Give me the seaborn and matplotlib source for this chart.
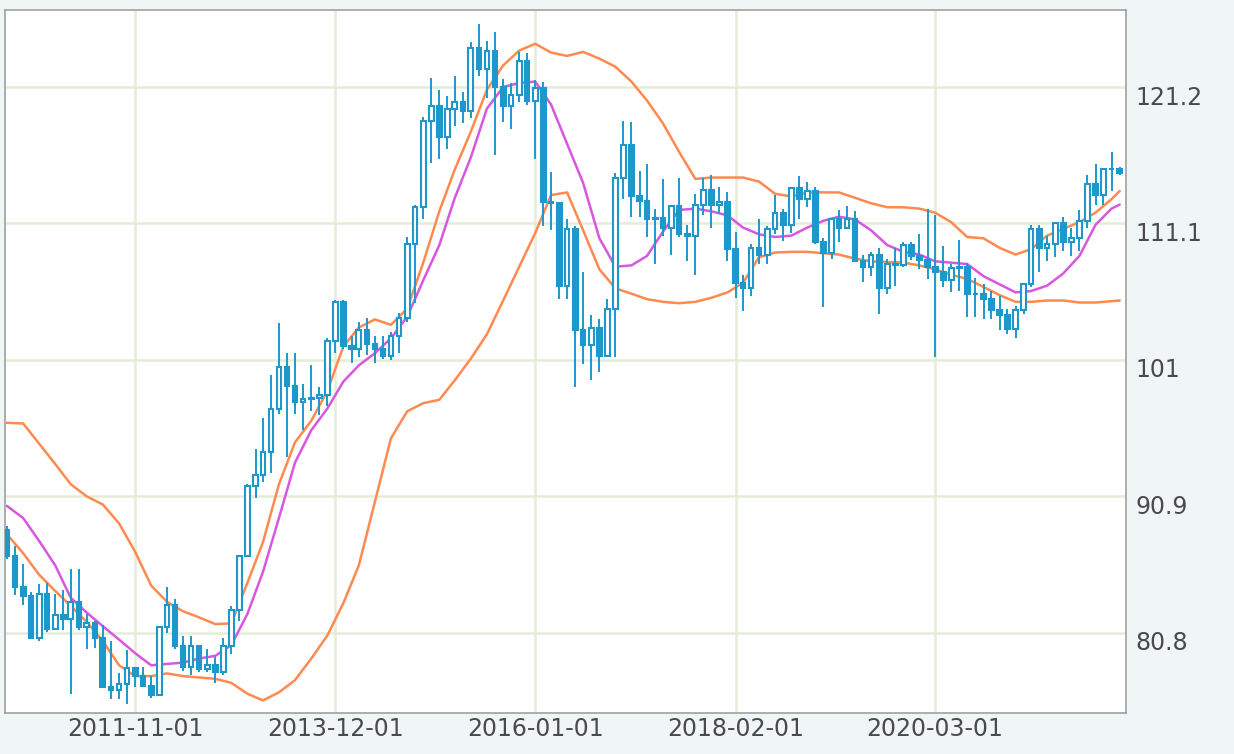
import matplotlib
matplotlib.use("Agg")
import matplotlib.pyplot as plt
import matplotlib.transforms as mtransforms
import numpy as np
import pandas as pd
import seaborn as sns

# monthly candles, 2010-07 .. 2022-02
months = pd.date_range("2010-07-01", periods=140, freq="MS")

open_ = [88.4, 86.5, 84.2, 83.5, 80.4, 83.7,  # 2010
         81.1, 82.1, 81.8, 83.1, 81.2, 81.5, 80.4, 76.8, 76.6, 77.0, 78.2, 77.6,
         76.9, 76.2, 81.2, 82.9, 79.8, 78.3, 79.8, 78.1, 78.4, 77.9, 79.8, 82.5,
         86.5, 91.7, 92.5, 94.2, 97.4, 100.5, 99.1, 97.9, 98.1, 98.2, 98.4, 102.4,
         105.3, 102.0, 101.8, 103.2, 102.2, 101.8, 101.3, 102.8, 104.1, 109.6, 112.3, 118.7,
         119.8, 117.5, 119.6, 120.1, 119.4, 124.1, 122.5, 123.9, 121.2, 119.8, 120.6, 123.1,
         120.2, 121.1, 112.7, 112.6, 106.5, 110.7, 103.2, 102.1, 103.4, 101.3, 104.8, 114.5,
         116.9, 113.1, 112.8, 111.4, 111.5, 110.8, 112.4, 110.3, 110.2, 112.5, 113.6, 112.5,
         112.7, 109.2, 106.7, 106.3, 109.3, 108.8, 110.7, 111.9, 111.0, 113.7, 112.9, 113.5,
         109.7, 108.9, 111.4, 110.8, 111.4, 108.3, 107.9, 108.8, 106.3, 108.1, 108.0, 109.5,
         108.7, 108.4, 107.9, 107.5, 106.9, 107.8, 107.9, 105.9, 105.9, 105.5, 104.7, 104.3,
         103.3, 104.7, 106.6, 110.7, 109.3, 109.6, 111.1, 109.7, 110.0, 111.3, 114.0, 113.2,
         115.1, 115.1]
high = [88.7, 87.2, 85.9, 83.8, 84.4, 84.5,
        83.7, 84.0, 85.5, 85.5, 82.2, 81.7, 81.4, 80.2, 77.8, 79.5, 78.3, 78.3,
        77.6, 81.2, 84.2, 83.3, 80.6, 80.6, 79.9, 79.6, 79.0, 80.4, 82.8, 86.6,
        91.8, 94.4, 96.7, 99.9, 103.7, 101.5, 101.5, 99.2, 100.6, 99.0, 102.6, 105.4,
        105.4, 102.8, 103.8, 104.1, 102.8, 102.8, 103.1, 104.5, 110.1, 112.5, 119.0, 121.9,
        121.0, 120.5, 122.0, 120.8, 124.5, 125.9, 124.6, 125.3, 121.8, 121.5, 123.8, 123.7,
        121.7, 121.6, 114.9, 112.7, 111.4, 110.9, 107.5, 104.3, 104.0, 105.5, 114.8, 118.7,
        118.6, 115.0, 115.5, 112.2, 114.4, 112.4, 114.5, 111.0, 113.3, 114.5, 114.7, 113.8,
        113.4, 110.5, 107.3, 109.6, 111.4, 110.9, 113.2, 112.2, 113.7, 114.6, 114.2, 113.8,
        110.0, 111.5, 112.1, 112.4, 112.0, 108.8, 109.0, 109.3, 108.5, 109.3, 109.7, 109.7,
        110.3, 112.2, 111.7, 109.4, 108.1, 109.9, 108.2, 107.1, 106.6, 106.1, 105.7, 104.8,
        105.0, 106.7, 111.0, 111.0, 110.2, 111.1, 111.6, 110.8, 112.1, 114.7, 115.5, 115.2,
        116.4, 115.3]
low = [86.3, 83.6, 82.9, 80.4, 80.2, 80.9,
       81.0, 81.0, 76.3, 81.0, 79.6, 79.7, 76.7, 75.9, 75.9, 75.5, 76.8, 76.9,
       76.0, 76.1, 80.8, 79.6, 78.0, 77.7, 77.9, 77.9, 77.1, 77.7, 79.2, 81.7,
       86.5, 90.8, 92.0, 92.6, 97.0, 93.8, 97.0, 95.8, 97.2, 96.9, 97.6, 101.5,
       101.8, 100.8, 101.2, 101.4, 100.8, 101.1, 101.0, 101.5, 103.8, 105.2, 111.4, 115.6,
       115.9, 116.6, 118.3, 118.5, 118.9, 122.0, 120.4, 116.2, 118.6, 118.1, 120.1, 119.9,
       115.9, 110.9, 110.6, 105.5, 105.5, 99.0, 100.7, 99.5, 100.1, 101.2, 101.2, 112.9,
       111.6, 111.6, 110.1, 108.1, 110.2, 108.8, 110.1, 108.3, 107.3, 111.7, 110.8, 111.9,
       108.3, 105.6, 104.6, 105.7, 108.1, 108.1, 110.3, 109.8, 110.4, 111.4, 112.3, 109.6,
       104.9, 108.5, 109.7, 110.8, 108.3, 106.8, 107.2, 104.4, 105.9, 106.5, 107.9, 108.4,
       107.7, 107.0, 101.2, 106.4, 106.0, 106.1, 104.2, 104.2, 104.0, 104.0, 103.2, 102.9,
       102.6, 104.4, 106.4, 107.5, 108.3, 108.6, 109.1, 108.7, 109.1, 110.8, 112.5, 112.5,
       113.5, 114.7]
close = [86.5, 84.2, 83.5, 80.4, 83.7, 81.1,
         82.1, 81.8, 83.1, 81.2, 81.5, 80.4, 76.8, 76.6, 77.0, 78.2, 77.6, 76.9,
         76.2, 81.2, 82.9, 79.8, 78.3, 79.8, 78.1, 78.4, 77.9, 79.8, 82.5, 86.5,
         91.7, 92.5, 94.2, 97.4, 100.5, 99.1, 97.9, 98.1, 98.2, 98.4, 102.4, 105.3,
         102.0, 101.8, 103.2, 102.2, 101.8, 101.3, 102.8, 104.1, 109.6, 112.3, 118.7, 119.8,
         117.5, 119.6, 120.1, 119.4, 124.1, 122.5, 123.9, 121.2, 119.8, 120.6, 123.1, 120.2,
         121.1, 112.7, 112.6, 106.5, 110.7, 103.2, 102.1, 103.4, 101.3, 104.8, 114.5, 116.9,
         113.1, 112.8, 111.4, 111.5, 110.8, 112.4, 110.3, 110.2, 112.5, 113.6, 112.5, 112.7,
         109.2, 106.7, 106.3, 109.3, 108.8, 110.7, 111.9, 111.0, 113.7, 112.9, 113.5, 109.7,
         108.9, 111.4, 110.8, 111.4, 108.3, 107.9, 108.8, 106.3, 108.1, 108.0, 109.5, 108.7,
         108.4, 107.9, 107.5, 106.9, 107.8, 107.9, 105.9, 105.9, 105.5, 104.7, 104.3, 103.3,
         104.7, 106.6, 110.7, 109.3, 109.6, 111.1, 109.7, 110.0, 111.3, 114.0, 113.2, 115.1,
         115.1, 114.8]

# band lines, read every second month (+ last month)
band_dates = list(months[::2]) + [months[-1]]
upper = [96.35, 96.3, 94.8, 93.3, 91.8, 90.9, 90.3, 88.9, 86.8, 84.3,
         83.1, 82.4, 81.95, 81.45, 81.5, 84.5, 87.5, 91.8, 94.9, 96.5,
         98.7, 102.0, 103.4, 104.0, 103.6, 104.8, 108.2, 112.0, 115.1, 117.9,
         121.0, 122.8, 123.9, 124.4, 123.75, 123.5, 123.8, 123.3, 122.7, 121.6,
         120.2, 118.5, 116.4, 114.4, 114.5, 114.5, 114.5, 114.2, 113.3, 113.1,
         113.4, 113.4, 113.4, 113.0, 112.6, 112.3, 112.3, 112.2, 111.9, 111.2,
         110.1, 110.0, 109.3, 108.8, 109.2, 110.2, 110.7, 111.2, 111.9, 112.9,
         113.5]
middle = [90.2, 89.3, 87.6, 85.8, 83.4, 82.3, 81.3, 80.3, 79.3, 78.4,
          78.5, 78.6, 78.9, 79.1, 79.9, 82.2, 85.3, 89.3, 93.4, 95.8,
          97.4, 99.4, 100.6, 101.5, 102.6, 104.2, 106.9, 109.5, 113.0, 116.0,
          119.6, 121.2, 121.5, 121.6, 119.9, 117.0, 114.1, 110.0, 107.9, 108.0,
          108.7, 110.5, 112.1, 112.2, 112.0, 111.7, 110.8, 110.3, 110.1, 110.2,
          110.8, 111.3, 111.6, 111.4, 110.6, 109.5, 109.0, 108.8, 108.3, 108.2,
          108.1, 107.2, 106.6, 106.0, 106.1, 106.5, 107.4, 108.7, 111.0, 112.2,
          112.5]
lower = [88.1, 86.7, 85.1, 83.9, 82.8, 81.6, 80.2, 78.4, 77.6, 77.6,
         77.8, 77.6, 77.5, 77.4, 77.1, 76.3, 75.8, 76.4, 77.3, 78.9,
         80.6, 83.0, 85.8, 90.5, 95.2, 97.2, 97.8, 98.05, 99.5, 101.1,
         102.9, 105.4, 107.9, 110.4, 113.2, 113.4, 110.6, 107.7, 106.3, 105.9,
         105.5, 105.3, 105.2, 105.3, 105.6, 106.0, 106.7, 108.6, 108.95, 109.0,
         109.0, 108.9, 108.8, 108.5, 108.3, 108.25, 108.2, 108.0, 107.7, 107.3,
         107.0, 106.4, 105.8, 105.3, 105.3, 105.4, 105.4, 105.25, 105.25, 105.35,
         105.4]

y_ticks = [80.8, 90.9, 101, 111.1, 121.2]
y_labels = ["80.8", "90.9", "101", "111.1", "121.2"]
x_ticks = ["2011-11-01", "2013-12-01", "2016-01-01", "2018-02-01", "2020-03-01"]

blue = "#1e98cb"
orange = "#ff8a4f"
magenta = "#d957e0"
grid_c = "#e5edd6"
text_c = "#4a4a4a"

sns.set_theme(style="white")
plt.rcParams["font.family"] = ["DejaVu Sans"]

fig = plt.figure(figsize=(12.34, 7.54), dpi=100, facecolor="#f0f5f5")
ax = fig.add_axes([5 / 1234, 1 - 713 / 754, 1121 / 1234, 703 / 754])
ax.set_facecolor("white")

bands = pd.DataFrame({"date": band_dates, "upper": upper,
                      "middle": middle, "lower": lower})
sns.lineplot(data=bands, x="date", y="upper", color=orange, lw=1.8, ax=ax, zorder=2)
sns.lineplot(data=bands, x="date", y="lower", color=orange, lw=1.8, ax=ax, zorder=2)
sns.lineplot(data=bands, x="date", y="middle", color=magenta, lw=1.8, ax=ax, zorder=2)

df = pd.DataFrame({"date": months, "open": open_, "high": high,
                   "low": low, "close": close})
up = df["close"] >= df["open"]
ax.vlines(df["date"], df["low"], df["high"], color=blue, lw=1.4, zorder=3)
ax.bar(df["date"], (df["close"] - df["open"]).abs(),
       bottom=df[["open", "close"]].min(axis=1), width=pd.Timedelta(days=18),
       color=np.where(up, "white", blue), edgecolor=blue, linewidth=1.5, zorder=4)

ax.set_xlim(pd.Timestamp("2010-06-24"), pd.Timestamp("2022-02-25"))
ax.set_ylim(74.87, 126.9)
ax.set_yticks(y_ticks)
ax.set_yticklabels(y_labels)
ax.set_xticks(pd.to_datetime(x_ticks))
ax.set_xticklabels(x_ticks)
ax.yaxis.tick_right()
ax.set_xlabel("")
ax.set_ylabel("")
ax.grid(True, color=grid_c, lw=1.8)
ax.set_axisbelow(True)
ax.tick_params(axis="both", length=0, labelsize=17, colors=text_c)
ax.tick_params(axis="x", pad=3)
ax.tick_params(axis="y", pad=7)
for s in ax.spines.values():
    s.set_visible(True)
    s.set_color("#999999")
    s.set_linewidth(1.1)

# right-hand labels sit a little below their grid line
off = mtransforms.ScaledTranslation(0, -8 / 100, fig.dpi_scale_trans)
for t in ax.yaxis.get_major_ticks():
    t.label2.set_transform(t.label2.get_transform() + off)

fig.savefig("out.png", dpi=100, facecolor=fig.get_facecolor())
